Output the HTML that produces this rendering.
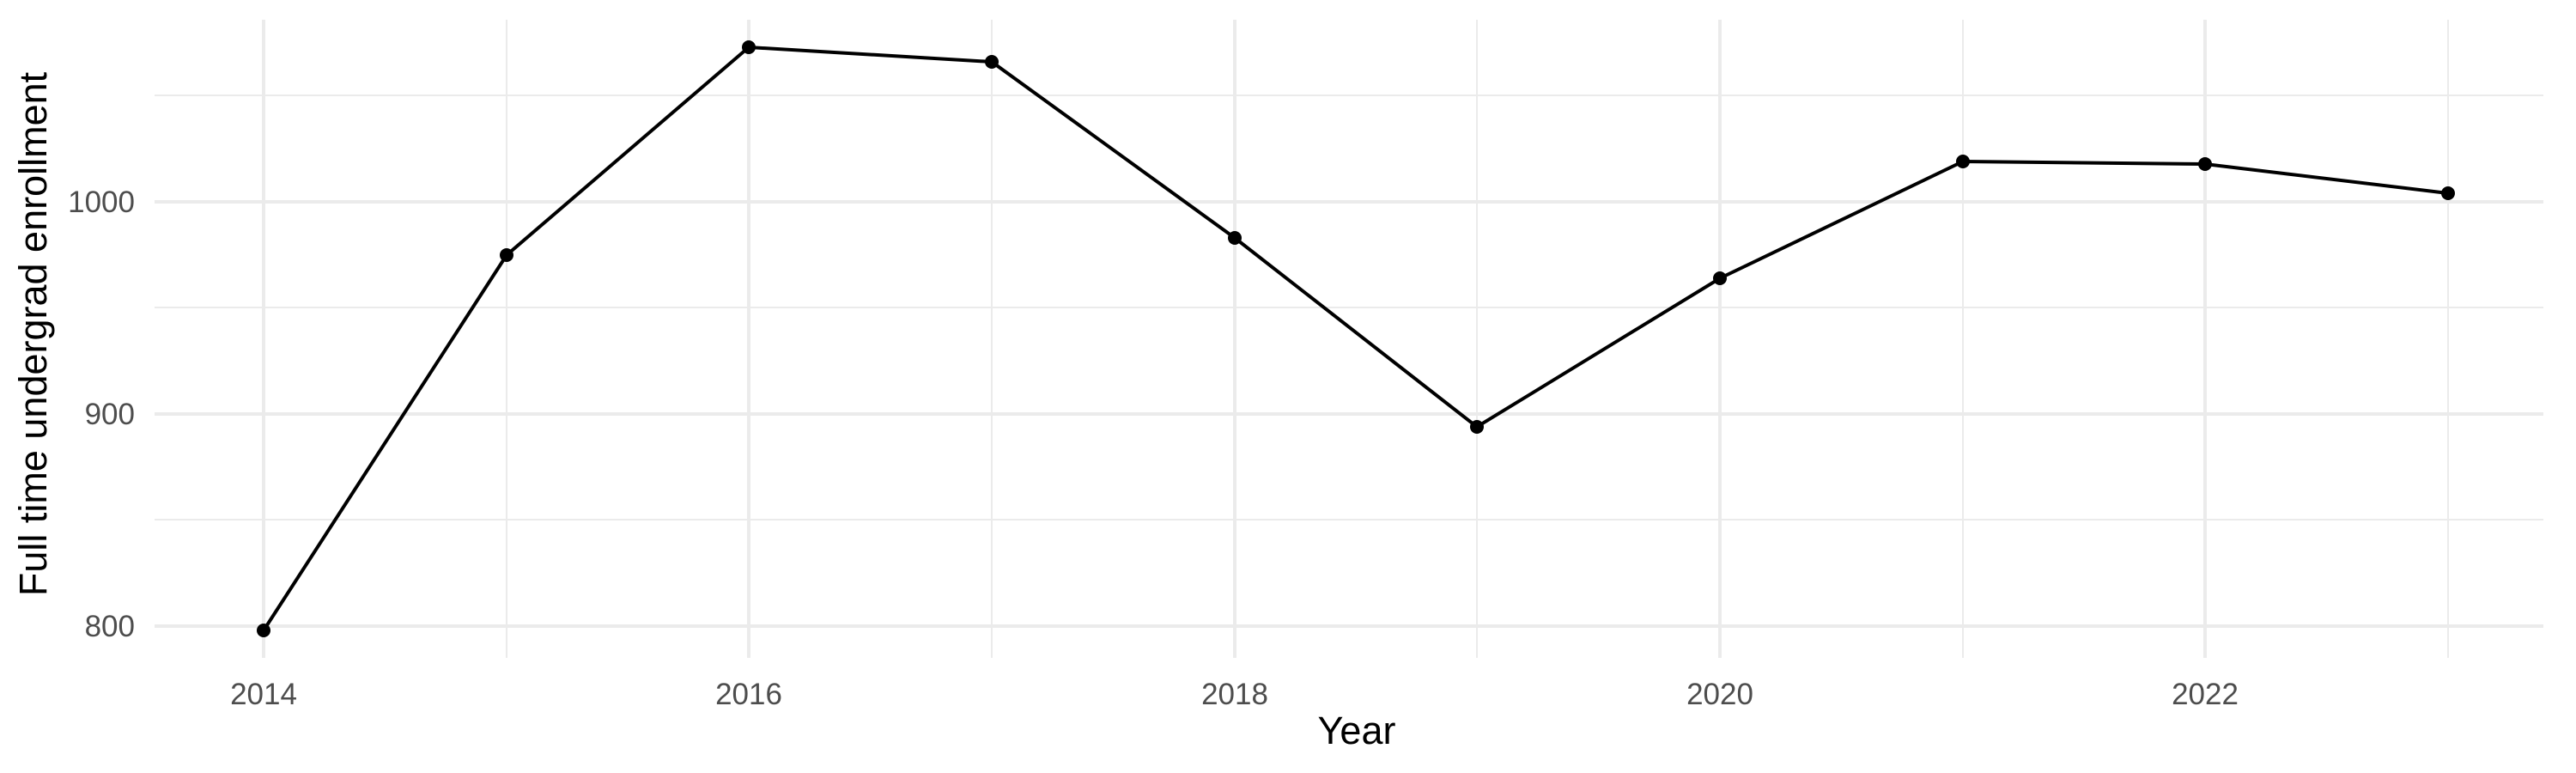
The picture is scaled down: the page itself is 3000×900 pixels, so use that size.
<!DOCTYPE html>
<html><head><style>body{margin:0;background:#fff}svg{display:block}</style></head><body>
<svg width="3000" height="900" xmlns="http://www.w3.org/2000/svg" font-family="Liberation Sans, sans-serif">
<rect width="3000" height="900" fill="#fff"/>
<g stroke="#ebebeb" stroke-width="2">
<line x1="180" x2="2962" y1="605" y2="605"/><line x1="180" x2="2962" y1="358" y2="358"/><line x1="180" x2="2962" y1="111" y2="111"/>
<line x1="590" x2="590" y1="23" y2="766"/><line x1="1155" x2="1155" y1="23" y2="766"/><line x1="1720" x2="1720" y1="23" y2="766"/><line x1="2286" x2="2286" y1="23" y2="766"/><line x1="2851" x2="2851" y1="23" y2="766"/>
</g>
<g stroke="#ebebeb" stroke-width="4">
<line x1="180" x2="2962" y1="729" y2="729"/><line x1="180" x2="2962" y1="482" y2="482"/><line x1="180" x2="2962" y1="235" y2="235"/>
<line x1="307" x2="307" y1="23" y2="766"/><line x1="872" x2="872" y1="23" y2="766"/><line x1="1438" x2="1438" y1="23" y2="766"/><line x1="2003" x2="2003" y1="23" y2="766"/><line x1="2568" x2="2568" y1="23" y2="766"/>
</g>
<polyline fill="none" stroke="#000" stroke-width="4" points="307,734 590,297 872,55 1155,72 1438,277 1720,497 2003,324 2286,188 2568,191 2851,225"/>
<g fill="#000">
<circle cx="307" cy="734" r="8"/><circle cx="590" cy="297" r="8"/><circle cx="872" cy="55" r="8"/><circle cx="1155" cy="72" r="8"/><circle cx="1438" cy="277" r="8"/><circle cx="1720" cy="497" r="8"/><circle cx="2003" cy="324" r="8"/><circle cx="2286" cy="188" r="8"/><circle cx="2568" cy="191" r="8"/><circle cx="2851" cy="225" r="8"/>
</g>
<g fill="#4d4d4d" font-size="35" text-anchor="end">
<text x="157" y="741">800</text><text x="157" y="494">900</text><text x="157" y="247">1000</text>
</g>
<g fill="#4d4d4d" font-size="35" text-anchor="middle">
<text x="307" y="820">2014</text><text x="872" y="820">2016</text><text x="1438" y="820">2018</text><text x="2003" y="820">2020</text><text x="2568" y="820">2022</text>
</g>
<text x="1580" y="866" font-size="45" text-anchor="middle" fill="#000">Year</text>
<text transform="translate(54,389) rotate(-90)" font-size="45" text-anchor="middle" fill="#000">Full time undergrad enrollment</text>
</svg>
</body></html>
